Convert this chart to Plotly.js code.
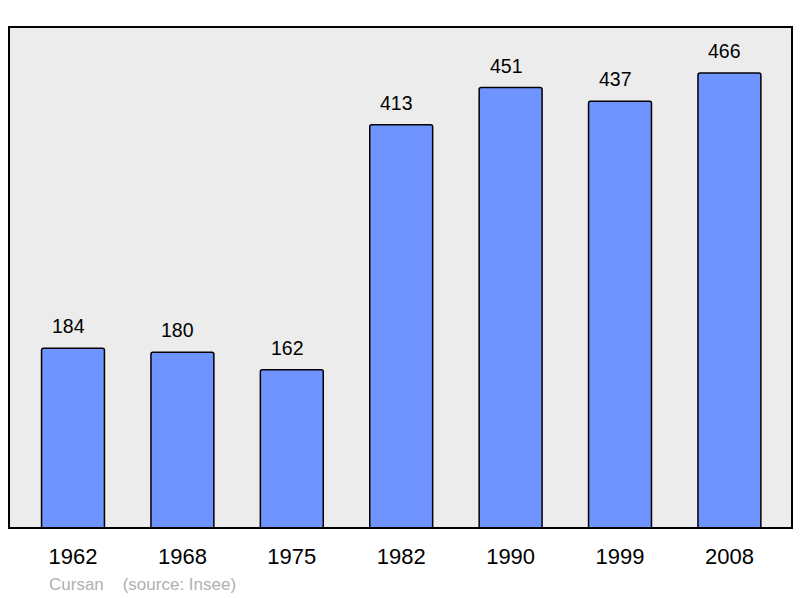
<!DOCTYPE html>
<html><head><meta charset="utf-8">
<script src="https://cdn.plot.ly/plotly-3.0.1.min.js"></script>
<style>html,body{margin:0;padding:0;background:#fff;}#chart{width:800px;height:598px;}</style>
</head><body><div id="chart"></div>
<script>
const years = ['1962','1968','1975','1982','1990','1999','2008'];
const population = [184, 180, 162, 413, 451, 437, 466];
const footerText = 'Cursan&nbsp;&nbsp;&nbsp;&nbsp;(source: Insee)';

const trace = {
  type: 'bar', x: years, y: population, width: 0.575,
  marker: {color: '#7094ff', line: {color: '#000', width: 1.5}, cornerradius: 2},
  hoverinfo: 'skip'
};
const ann = years.map((y, i) => ({
  x: i, y: population[i], xref: 'x', yref: 'y', text: String(population[i]),
  showarrow: false, yshift: 22, xshift: -4.5, yanchor: 'middle',
  font: {family: 'Liberation Sans, Arial, sans-serif', size: 19.5, color: '#000'}
}));
ann.push({xref: 'paper', yref: 'paper', x: 38/783, y: -56/501, xanchor: 'left', yanchor: 'middle',
  text: footerText, showarrow: false,
  font: {family: 'Liberation Sans, Arial, sans-serif', size: 17, color: '#b0b0b0'}});

const layout = {
  width: 800, height: 598,
  margin: {l: 9, r: 8, t: 27, b: 70, pad: 0},
  paper_bgcolor: '#fff', plot_bgcolor: '#ececec',
  showlegend: false,
  xaxis: {type: 'category', range: [-0.585, 6.572], showgrid: false, zeroline: false,
    showline: false, ticks: '', ticklabelstandoff: 13,
    tickfont: {family: 'Liberation Sans, Arial, sans-serif', size: 22, color: '#000'}},
  yaxis: {range: [0, 513], showgrid: false, zeroline: false, showticklabels: false, showline: false, ticks: ''},
  annotations: ann,
  shapes: [{type: 'rect', xref: 'paper', yref: 'paper', x0: 0, x1: 1, y0: 0, y1: 1,
    line: {color: '#000', width: 2}}]
};
Plotly.newPlot('chart', [trace], layout, {staticPlot: true, displayModeBar: false});
</script></body></html>
